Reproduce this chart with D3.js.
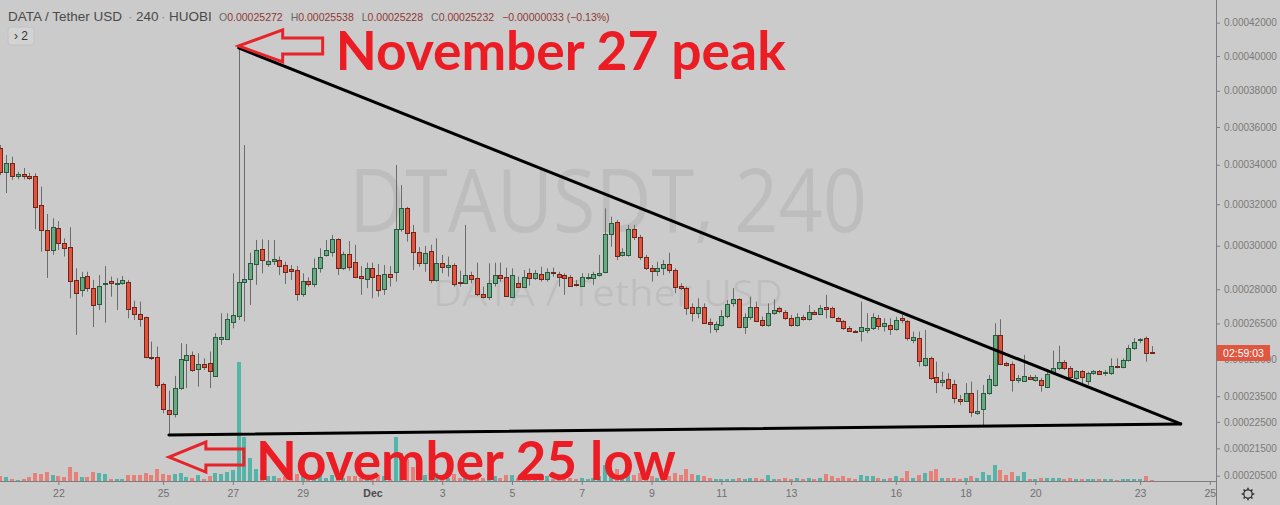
<!DOCTYPE html>
<html><head><meta charset="utf-8">
<script src="https://cdn.jsdelivr.net/npm/d3@7"></script>
<style>
html,body{margin:0;padding:0;background:#cbcbcb;}
svg{display:block;}
</style></head><body>
<svg id="c" width="1280" height="505"></svg>
<script>
// ---- DATA (DTA/USDT, Huobi, 4h candles) ----
const candleStart = "2019-11-20T08:00:00Z"; // first visible candle
const candleHours = 4;
const opens = [34.88e-5,33.61e-5,34.11e-5,33.42e-5,33.50e-5,33.42e-5,33.42e-5,31.96e-5,30.75e-5,29.80e-5,
30.83e-5,30.11e-5,29.95e-5,28.42e-5,27.97e-5,28.60e-5,28.05e-5,27.33e-5,28.23e-5,28.37e-5,
28.25e-5,28.30e-5,28.34e-5,27.20e-5,26.91e-5,26.77e-5,25.10e-5,25.10e-5,23.98e-5,22.96e-5,
22.80e-5,23.82e-5,24.96e-5,25.17e-5,24.59e-5,24.80e-5,24.82e-5,24.32e-5,25.83e-5,25.84e-5,
26.58e-5,26.82e-5,28.34e-5,28.45e-5,29.15e-5,29.83e-5,29.15e-5,29.30e-5,29.33e-5,29.10e-5,
28.90e-5,28.87e-5,27.78e-5,28.39e-5,28.24e-5,28.95e-5,29.57e-5,29.72e-5,30.30e-5,28.95e-5,
29.60e-5,29.25e-5,28.60e-5,28.45e-5,28.98e-5,28.63e-5,28.00e-5,28.68e-5,28.77e-5,30.78e-5,
31.80e-5,30.65e-5,29.72e-5,29.21e-5,29.77e-5,28.42e-5,29.21e-5,29.02e-5,29.09e-5,28.34e-5,
28.30e-5,28.64e-5,28.50e-5,27.79e-5,27.67e-5,28.30e-5,28.64e-5,28.54e-5,27.67e-5,28.27e-5,
28.12e-5,28.75e-5,28.50e-5,28.69e-5,28.47e-5,28.79e-5,28.69e-5,28.64e-5,28.54e-5,28.23e-5,
28.16e-5,28.52e-5,28.52e-5,28.64e-5,28.77e-5,30.56e-5,31.15e-5,29.57e-5,29.57e-5,30.78e-5,
30.40e-5,29.49e-5,28.98e-5,28.82e-5,28.95e-5,29.13e-5,28.87e-5,28.16e-5,28.07e-5,27.20e-5,
26.96e-5,27.20e-5,26.58e-5,26.25e-5,26.44e-5,26.82e-5,27.37e-5,27.55e-5,26.36e-5,26.79e-5,
27.20e-5,26.65e-5,26.44e-5,26.96e-5,27.15e-5,27.01e-5,26.75e-5,26.44e-5,26.79e-5,26.68e-5,
27.01e-5,26.91e-5,27.20e-5,27.18e-5,26.72e-5,26.61e-5,26.32e-5,26.19e-5,26.19e-5,26.22e-5,
26.29e-5,26.75e-5,26.39e-5,26.44e-5,26.25e-5,26.72e-5,26.61e-5,25.80e-5,25.87e-5,24.75e-5,
25.06e-5,24.26e-5,24.08e-5,24.18e-5,23.98e-5,23.38e-5,23.31e-5,23.62e-5,22.83e-5,22.99e-5,
23.62e-5,23.95e-5,26.01e-5,24.82e-5,24.80e-5,24.15e-5,24.12e-5,24.28e-5,24.15e-5,24.15e-5,
23.88e-5,24.42e-5,24.62e-5,24.89e-5,24.64e-5,24.22e-5,24.51e-5,24.12e-5,24.42e-5,24.51e-5,
24.44e-5,24.44e-5,24.72e-5,24.69e-5,24.96e-5,25.45e-5,25.80e-5,25.87e-5,25.272e-5];
const highs = [35.03e-5,34.51e-5,34.42e-5,33.64e-5,33.83e-5,33.58e-5,33.56e-5,32.88e-5,31.52e-5,31.31e-5,
31.18e-5,30.35e-5,30.88e-5,28.95e-5,28.79e-5,28.79e-5,28.42e-5,28.64e-5,29.05e-5,28.57e-5,
28.50e-5,28.60e-5,28.42e-5,27.49e-5,27.45e-5,26.79e-5,25.73e-5,25.52e-5,24.04e-5,23.72e-5,
24.31e-5,25.66e-5,25.63e-5,25.31e-5,25.24e-5,25.03e-5,25.31e-5,26.08e-5,26.94e-5,26.94e-5,
28.72e-5,40.48e-5,35.03e-5,29.67e-5,30.27e-5,30.30e-5,30.27e-5,30.27e-5,29.49e-5,29.25e-5,
29.10e-5,29.05e-5,28.72e-5,28.54e-5,29.40e-5,29.88e-5,30.27e-5,30.51e-5,30.35e-5,29.72e-5,
30.22e-5,30.04e-5,29.05e-5,29.21e-5,29.21e-5,29.15e-5,29.10e-5,29.05e-5,33.99e-5,32.96e-5,
31.88e-5,30.99e-5,29.93e-5,29.99e-5,30.04e-5,30.35e-5,29.57e-5,29.49e-5,29.18e-5,28.84e-5,
30.99e-5,28.79e-5,29.21e-5,28.12e-5,29.18e-5,29.21e-5,29.21e-5,28.98e-5,28.95e-5,28.57e-5,
28.87e-5,28.95e-5,28.87e-5,29.02e-5,28.95e-5,28.98e-5,28.79e-5,28.72e-5,28.64e-5,28.42e-5,
28.72e-5,28.72e-5,28.79e-5,29.57e-5,31.80e-5,31.39e-5,31.23e-5,29.88e-5,30.99e-5,30.99e-5,
30.51e-5,29.57e-5,29.10e-5,29.25e-5,29.33e-5,29.67e-5,28.95e-5,28.27e-5,28.12e-5,27.37e-5,
27.60e-5,27.37e-5,26.72e-5,26.58e-5,27.08e-5,27.52e-5,28.05e-5,27.60e-5,26.94e-5,27.67e-5,
27.45e-5,26.79e-5,27.37e-5,27.55e-5,27.23e-5,27.08e-5,26.87e-5,26.94e-5,26.87e-5,27.30e-5,
27.08e-5,27.30e-5,27.75e-5,27.23e-5,26.79e-5,26.65e-5,26.39e-5,26.22e-5,27.45e-5,26.94e-5,
26.94e-5,26.87e-5,26.72e-5,26.72e-5,26.79e-5,26.87e-5,26.65e-5,26.15e-5,26.15e-5,26.22e-5,
25.10e-5,24.89e-5,24.48e-5,24.42e-5,24.15e-5,23.55e-5,24.02e-5,24.08e-5,23.75e-5,23.95e-5,
24.35e-5,26.51e-5,26.68e-5,24.89e-5,24.89e-5,24.35e-5,25.17e-5,24.35e-5,24.35e-5,24.22e-5,
24.55e-5,25.35e-5,25.55e-5,24.96e-5,24.71e-5,24.55e-5,24.55e-5,24.48e-5,24.55e-5,24.55e-5,
24.55e-5,25.03e-5,25.03e-5,25.03e-5,25.59e-5,25.87e-5,25.87e-5,25.94e-5,25.538e-5];
const lows = [33.47e-5,32.56e-5,33.22e-5,33.25e-5,33.25e-5,33.22e-5,30.78e-5,29.72e-5,28.51e-5,29.57e-5,
29.80e-5,29.49e-5,27.60e-5,26.01e-5,27.67e-5,27.89e-5,26.34e-5,27.08e-5,26.53e-5,27.67e-5,
27.08e-5,28.20e-5,26.72e-5,26.65e-5,26.36e-5,25.03e-5,24.96e-5,23.82e-5,22.83e-5,22.00e-5,
22.67e-5,23.75e-5,23.82e-5,24.48e-5,23.88e-5,24.55e-5,23.82e-5,24.28e-5,25.59e-5,25.80e-5,
26.29e-5,26.65e-5,26.58e-5,27.30e-5,28.20e-5,28.72e-5,29.02e-5,29.10e-5,28.64e-5,28.24e-5,
28.42e-5,27.49e-5,27.67e-5,28.12e-5,28.09e-5,28.75e-5,29.49e-5,29.49e-5,28.64e-5,28.87e-5,
28.84e-5,28.50e-5,27.75e-5,28.05e-5,27.60e-5,27.67e-5,27.75e-5,28.12e-5,28.34e-5,30.67e-5,
30.19e-5,28.87e-5,29.02e-5,28.79e-5,28.27e-5,28.34e-5,28.72e-5,28.57e-5,28.12e-5,28.12e-5,
28.24e-5,28.27e-5,27.70e-5,27.60e-5,27.52e-5,28.12e-5,28.34e-5,27.67e-5,27.60e-5,28.05e-5,
28.05e-5,28.16e-5,28.42e-5,28.34e-5,28.34e-5,28.57e-5,28.12e-5,27.75e-5,28.12e-5,28.12e-5,
28.12e-5,28.42e-5,28.20e-5,28.57e-5,28.72e-5,29.95e-5,29.33e-5,29.49e-5,29.49e-5,30.27e-5,
29.33e-5,28.87e-5,28.34e-5,28.60e-5,28.64e-5,28.72e-5,27.82e-5,27.97e-5,26.87e-5,26.58e-5,
26.72e-5,26.51e-5,26.08e-5,26.11e-5,26.36e-5,26.72e-5,27.23e-5,26.29e-5,26.05e-5,26.65e-5,
26.58e-5,26.36e-5,26.36e-5,26.87e-5,26.94e-5,26.65e-5,26.36e-5,26.36e-5,26.62e-5,26.62e-5,
26.87e-5,26.87e-5,26.72e-5,26.72e-5,26.58e-5,26.22e-5,26.15e-5,26.11e-5,25.73e-5,26.08e-5,
26.22e-5,26.22e-5,26.15e-5,26.01e-5,26.19e-5,26.51e-5,25.77e-5,25.66e-5,24.69e-5,24.69e-5,
24.15e-5,23.62e-5,23.88e-5,23.75e-5,23.22e-5,23.16e-5,23.28e-5,22.70e-5,22.77e-5,22.32e-5,
23.55e-5,23.88e-5,24.75e-5,24.69e-5,23.68e-5,24.02e-5,24.08e-5,24.15e-5,24.08e-5,23.68e-5,
23.82e-5,24.35e-5,24.55e-5,24.55e-5,24.22e-5,24.15e-5,24.02e-5,23.95e-5,24.35e-5,24.35e-5,
24.31e-5,24.35e-5,24.62e-5,24.62e-5,24.89e-5,25.38e-5,25.66e-5,24.89e-5,25.228e-5];
const closes = [33.63e-5,34.11e-5,33.44e-5,33.51e-5,33.42e-5,33.31e-5,31.88e-5,30.75e-5,29.80e-5,30.88e-5,
30.11e-5,29.88e-5,28.39e-5,27.85e-5,28.54e-5,28.05e-5,27.29e-5,28.16e-5,28.30e-5,28.27e-5,
28.30e-5,28.42e-5,27.12e-5,26.90e-5,26.69e-5,25.10e-5,25.03e-5,23.95e-5,22.99e-5,22.80e-5,
23.82e-5,24.99e-5,25.17e-5,24.55e-5,24.78e-5,24.69e-5,24.52e-5,25.91e-5,25.94e-5,26.69e-5,
26.86e-5,28.34e-5,28.45e-5,29.21e-5,29.80e-5,29.33e-5,29.30e-5,29.36e-5,29.07e-5,28.79e-5,
28.84e-5,27.78e-5,28.39e-5,28.24e-5,28.98e-5,29.46e-5,29.80e-5,30.30e-5,28.95e-5,29.60e-5,
29.02e-5,28.57e-5,28.50e-5,28.98e-5,28.57e-5,27.97e-5,28.69e-5,28.54e-5,30.78e-5,31.80e-5,
30.62e-5,29.72e-5,29.21e-5,29.67e-5,28.42e-5,29.21e-5,29.00e-5,29.10e-5,28.23e-5,28.27e-5,
28.64e-5,28.45e-5,27.78e-5,27.67e-5,28.30e-5,28.63e-5,28.52e-5,27.71e-5,28.64e-5,28.12e-5,
28.57e-5,28.52e-5,28.72e-5,28.47e-5,28.79e-5,28.72e-5,28.57e-5,28.52e-5,28.16e-5,28.20e-5,
28.57e-5,28.57e-5,28.68e-5,28.72e-5,30.56e-5,31.07e-5,29.52e-5,29.72e-5,30.78e-5,30.40e-5,
29.49e-5,28.95e-5,28.82e-5,28.98e-5,29.13e-5,28.87e-5,28.12e-5,28.07e-5,27.18e-5,26.96e-5,
27.20e-5,26.53e-5,26.48e-5,26.46e-5,26.82e-5,27.34e-5,27.55e-5,26.36e-5,26.77e-5,27.23e-5,
26.62e-5,26.44e-5,26.96e-5,27.08e-5,27.03e-5,26.72e-5,26.44e-5,26.77e-5,26.68e-5,27.01e-5,
26.91e-5,27.15e-5,27.12e-5,26.77e-5,26.62e-5,26.29e-5,26.19e-5,26.12e-5,26.36e-5,26.29e-5,
26.79e-5,26.39e-5,26.51e-5,26.25e-5,26.65e-5,26.65e-5,25.87e-5,25.90e-5,24.93e-5,25.03e-5,
24.22e-5,24.08e-5,24.15e-5,23.82e-5,23.42e-5,23.31e-5,23.62e-5,22.89e-5,22.93e-5,23.62e-5,
24.18e-5,26.01e-5,24.80e-5,24.75e-5,24.15e-5,24.22e-5,24.32e-5,24.19e-5,24.26e-5,23.95e-5,
24.39e-5,24.62e-5,24.89e-5,24.62e-5,24.26e-5,24.51e-5,24.26e-5,24.42e-5,24.51e-5,24.38e-5,
24.48e-5,24.71e-5,24.67e-5,24.96e-5,25.45e-5,25.70e-5,25.84e-5,25.265e-5,25.232e-5];
// volume (approx., millions DTA)
const volumes = [5,4,2,1,2,4,8,7,9,6, 5,4,14,9,4,4,9,8,7,2, 2,2,6,6,6,8,6,12,7,6,
7,8,4,3,6,2,5,8,7,9, 11,119,44,23,12,7,5,5,3,5, 2,7,5,2,5,6,3,6,7,3,
5,5,3,3,5,6,5,2,44,28, 22,14,7,6,9,8,5,3,7,3, 9,3,6,3,6,5,3,6,6,3,
5,3,3,3,5,2,2,3,3,2, 3,2,3,5,16,10,12,5,9,6, 8,7,5,3,3,5,8,6,12,7,
6,5,3,2,2,2,2,3,2,3, 3,2,6,2,2,3,2,3,2,3, 2,3,7,5,3,5,3,2,6,5,
5,3,2,3,5,3,10,3,6,8, 10,12,3,3,3,2,3,5,3,9, 6,16,11,6,9,5,9,2,2,3,
3,3,3,2,3,2,2,2,2,2, 2,2,1,2,2,2,2,5,1];
const priceTicks = [0.00042,0.0004,0.00038,0.00036,0.00034,0.00032,0.0003,0.00028,0.000265,0.00025,0.000235,0.000225,0.000215,0.000205];
const timeTickDates = ["2019-11-22","2019-11-25","2019-11-27","2019-11-29","2019-12-01","2019-12-03","2019-12-05","2019-12-07","2019-12-09","2019-12-11","2019-12-13","2019-12-16","2019-12-18","2019-12-20","2019-12-23","2019-12-25"];
const timeTickLabels = ["22","25","27","29","Dec","3","5","7","9","11","13","16","18","20","23","25"];
const trendTop = [{t:"2019-11-27T04:00:00Z", p:40.48e-5},{t:"2019-12-24T04:00:00Z", p:22.42e-5}];
const trendBottom = [{t:"2019-11-25T04:00:00Z", p:22.00e-5},{t:"2019-12-24T04:00:00Z", p:22.42e-5}];
const notes = [
  {text:"November 27 peak", t:"2019-11-27T04:00:00Z", p:40.48e-5, dy:-2, head:44, len:84, hh:16, sh:8, tx:97, ty:24, tw:450},
  {text:"November 25 low",  t:"2019-11-25T04:00:00Z", p:22.00e-5, dy:22, head:37, len:75, hh:15, sh:8, tx:87, ty:23, tw:420}
];
const symbolTitle = "DATA / Tether USD", interval = "240", exchange = "HUOBI";
const countdown = "02:59:03";

// ---- CHART ----
const W = 1280, H = 505, plotR = 1216, plotB = 481;
const times = opens.map((_, i) => d3.utcHour.offset(new Date(candleStart), candleHours * i));
const x = d3.scaleUtc().domain([new Date("2019-11-22T00:00:00Z"), new Date("2019-12-25T00:00:00Z")]).range([58.4, 1209.8]);
const y = d3.scaleSymlog().constant(1.03e-4).domain([0.000205, 0.00042]).range([475.7, 22.7]);
const vy = d3.scaleLinear().domain([0, d3.max(volumes)]).range([plotB, 362]);

const svg = d3.select("#c");
svg.append("rect").attr("width", W).attr("height", H).attr("fill", "#cbcbcb");

// watermark
svg.append("text").attr("x", plotR / 2).attr("y", 232).attr("text-anchor", "middle")
  .attr("font-family", "Open Sans, Liberation Sans, sans-serif").attr("font-size", 88)
  .attr("textLength", 518).attr("lengthAdjust", "spacingAndGlyphs")
  .attr("fill", "rgba(0,0,0,0.065)").text(`DTAUSDT, ${interval}`);
svg.append("text").attr("x", plotR / 2).attr("y", 306).attr("text-anchor", "middle")
  .attr("font-family", "Open Sans, Liberation Sans, sans-serif").attr("font-size", 37)
  .attr("textLength", 350).attr("lengthAdjust", "spacingAndGlyphs")
  .attr("fill", "rgba(0,0,0,0.065)").text(symbolTitle);

const up = i => closes[i] >= opens[i];
const cx = i => Math.round(x(times[i]));

// volume
svg.append("g").selectAll("rect").data(volumes).join("rect")
  .attr("x", (d, i) => cx(i) - 2).attr("width", 4)
  .attr("y", d => vy(d)).attr("height", d => plotB - vy(d))
  .attr("fill", (d, i) => up(i) ? "#55b4a9" : "#e8807a");

// candles
const cg = svg.append("g");
cg.selectAll("line").data(opens).join("line")
  .attr("x1", (d, i) => cx(i) + 0.5).attr("x2", (d, i) => cx(i) + 0.5)
  .attr("y1", (d, i) => y(highs[i])).attr("y2", (d, i) => y(lows[i]))
  .attr("stroke", "#6c6c6c").attr("stroke-width", 1);
cg.selectAll("rect").data(opens).join("rect")
  .attr("x", (d, i) => cx(i) - 1.5).attr("width", 4)
  .attr("y", (d, i) => Math.round(y(Math.max(opens[i], closes[i]))) + 0.5)
  .attr("height", (d, i) => Math.max(1, Math.round(y(Math.min(opens[i], closes[i]))) - Math.round(y(Math.max(opens[i], closes[i])))))
  .attr("fill", (d, i) => up(i) ? "#69a983" : "#e3523d")
  .attr("stroke", (d, i) => up(i) ? "#2a5a3e" : "#6e261b").attr("stroke-width", 1);

// axes
const ya = d3.axisRight(y).tickValues(priceTicks).tickFormat(d => d.toFixed(8)).tickSize(4).tickPadding(4);
const yg = svg.append("g").attr("transform", `translate(${plotR},0)`).call(ya);
yg.select(".domain").remove();
yg.selectAll("line").attr("stroke", "#7d7d7d");
yg.selectAll("text").attr("fill", "#7a7a7a").attr("font-family", "Liberation Sans, Arial, sans-serif").attr("font-size", 10);

const xa = d3.axisBottom(x).tickValues(timeTickDates.map(s => new Date(s + "T00:00:00Z")))
  .tickFormat((d, i) => timeTickLabels[i]).tickSize(4).tickPadding(5);
const xg = svg.append("g").attr("transform", `translate(0,${plotB})`).call(xa);
xg.select(".domain").remove();
xg.selectAll("line").attr("stroke", "#7d7d7d");
xg.selectAll("text").attr("font-family", "Liberation Sans, Arial, sans-serif").attr("font-size", 10.5)
  .attr("font-weight", (d, i) => timeTickLabels[i] === "Dec" ? "bold" : null)
  .attr("fill", (d, i) => timeTickLabels[i] === "Dec" ? "#4a4a4a" : "#707070");

svg.append("line").attr("x1", 0).attr("x2", plotR + 0.5).attr("y1", plotB + 0.5).attr("y2", plotB + 0.5).attr("stroke", "#7d7d7d");
svg.append("line").attr("x1", plotR + 0.5).attr("x2", plotR + 0.5).attr("y1", 0).attr("y2", H).attr("stroke", "#7d7d7d");

// countdown label at last close
const lastY = y(closes[closes.length - 1]);
svg.append("rect").attr("x", plotR + 1).attr("y", Math.round(lastY) - 8).attr("width", 53).attr("height", 16).attr("fill", "#e0563f");
svg.append("text").attr("x", plotR + 27.5).attr("y", Math.round(lastY) + 4).attr("text-anchor", "middle")
  .attr("fill", "#fff").attr("font-family", "Liberation Sans, Arial, sans-serif").attr("font-size", 10.5).text(countdown);

// trend lines
const line = d3.line().x(d => x(new Date(d.t))).y(d => y(d.p));
[trendTop, trendBottom].forEach(tl => svg.append("path").attr("d", line(tl))
  .attr("stroke", "#000").attr("stroke-width", 3).attr("fill", "none").attr("stroke-linecap", "round"));

// annotations
notes.forEach(n => {
  const tx = x(new Date(n.t)), ty = y(n.p) + n.dy;
  const pts = [[0,0],[n.head,-n.hh],[n.head,-n.sh],[n.len,-n.sh],[n.len,n.sh],[n.head,n.sh],[n.head,n.hh]]
    .map(([a, b]) => [tx + a, ty + b]);
  svg.append("path").attr("d", d3.line()(pts) + "Z").attr("fill", "none")
    .attr("stroke", "#e8232a").attr("stroke-width", 3).attr("stroke-linejoin", "miter");
  svg.append("text").attr("x", tx + n.tx).attr("y", ty + n.ty)
    .attr("font-family", "Lato, Liberation Sans, sans-serif").attr("font-weight", "bold").attr("font-size", 54)
    .attr("textLength", n.tw).attr("lengthAdjust", "spacingAndGlyphs")
    .attr("fill", "#ec1c24").text(n.text);
});

// header (separate text items so nothing overlaps)
const hf = "Liberation Sans, Arial, sans-serif";
const headItems = [[symbolTitle, 8, "#4a4a4a"], ["\u00B7", 128, "#8a8a8a"], [interval, 136, "#4a4a4a"], ["\u00B7", 161, "#8a8a8a"], [exchange, 169, "#4a4a4a"]];
headItems.forEach(([t, px, col]) => svg.append("text").attr("x", px).attr("y", 21)
  .attr("font-family", hf).attr("font-size", 13.5).attr("fill", col).text(t));

const n = closes.length - 1;
const chg = closes[n] - closes[n - 1];
const pct = chg / closes[n - 1] * 100;
const ohlc = [["O", opens[n].toFixed(8)], ["H", highs[n].toFixed(8)], ["L", lows[n].toFixed(8)], ["C", closes[n].toFixed(8)],
  ["", `${chg < 0 ? "\u2212" : "+"}${Math.abs(chg).toFixed(8)} (${pct < 0 ? "\u2212" : "+"}${Math.abs(pct).toFixed(2)}%)`]];
let ox = 219;
ohlc.forEach(([k, v]) => {
  const t = svg.append("text").attr("x", ox).attr("y", 21).attr("font-family", hf).attr("font-size", 10.5);
  t.append("tspan").attr("fill", "#6a6a6a").text(k);
  t.append("tspan").attr("fill", "#8e3833").text(v);
  ox += t.node().getComputedTextLength() + 8;
});

// "> 2" button
svg.append("rect").attr("x", 8).attr("y", 27).attr("width", 26).attr("height", 18).attr("rx", 3)
  .attr("fill", "#d3d3d3").attr("stroke", "#c2c2c2");
svg.append("text").attr("x", 14).attr("y", 40).attr("font-family", hf).attr("font-size", 12).attr("fill", "#333").text("\u203A 2");

// gear icon
const g = svg.append("g").attr("transform", "translate(1248,494)");
g.append("circle").attr("r", 4.2).attr("fill", "none").attr("stroke", "#333").attr("stroke-width", 1.3);
d3.range(8).forEach(k => {
  const a = k * Math.PI / 4;
  g.append("line").attr("x1", Math.cos(a) * 4.2).attr("y1", Math.sin(a) * 4.2)
    .attr("x2", Math.cos(a) * 6.3).attr("y2", Math.sin(a) * 6.3).attr("stroke", "#333").attr("stroke-width", 1.6);
});
</script>
</body></html>
